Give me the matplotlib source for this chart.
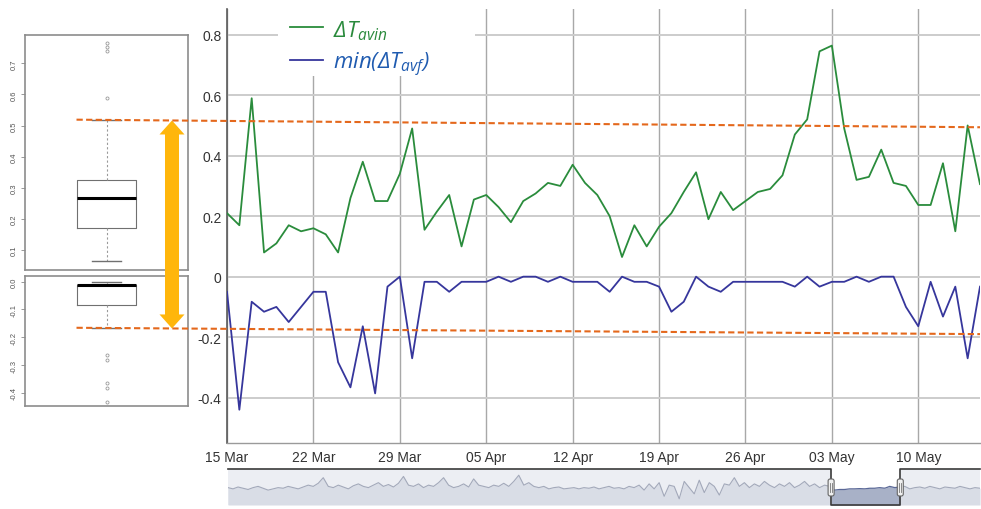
import numpy as np
import pandas as pd
import matplotlib
matplotlib.use("Agg")
import matplotlib.pyplot as plt
import matplotlib.dates as mdates
from matplotlib.patches import Rectangle, Polygon, FancyBboxPatch
from matplotlib.ticker import FuncFormatter

W, H = 981, 510

# daily series, 15 Mar .. 15 May
dates = pd.date_range("2016-03-15", periods=62, freq="D")
dt_avin = [
    0.21, 0.17, 0.59, 0.08, 0.11, 0.17, 0.15, 0.16, 0.14, 0.08,
    0.26, 0.38, 0.25, 0.25, 0.34, 0.49, 0.155, 0.215, 0.27, 0.10,
    0.255, 0.27, 0.23, 0.18, 0.25, 0.275, 0.31, 0.30, 0.37, 0.31,
    0.27, 0.20, 0.065, 0.17, 0.10, 0.165, 0.21, 0.28, 0.345, 0.19,
    0.28, 0.22, 0.25, 0.28, 0.29, 0.335, 0.47, 0.52, 0.745, 0.764,
    0.49, 0.32, 0.33, 0.42, 0.31, 0.30, 0.237, 0.237, 0.375, 0.15,
    0.50, 0.306,
]
min_dt_avf = [
    -0.05, -0.44, -0.083, -0.116, -0.10, -0.15, -0.10, -0.05, -0.05, -0.283,
    -0.366, -0.164, -0.386, -0.033, 0.0, -0.27, -0.017, -0.017, -0.05, -0.017,
    -0.017, -0.017, 0.0, -0.017, 0.0, 0.0, -0.017, 0.0, -0.017, -0.017,
    -0.017, -0.05, 0.0, -0.017, -0.017, -0.033, -0.116, -0.083, 0.0, -0.033,
    -0.05, -0.017, -0.017, -0.017, -0.017, -0.017, -0.033, 0.0, -0.033, -0.017,
    -0.017, 0.0, -0.017, 0.0, 0.0, -0.10, -0.164, -0.017, -0.132, -0.033,
    -0.27, -0.033,
]
week_ticks = pd.date_range("2016-03-15", periods=9, freq="7D")
y_ticks = [-0.4, -0.2, 0, 0.2, 0.4, 0.6, 0.8]

# box-plot summaries of the two series
box_hi = dict(q1=0.171, med=0.267, q3=0.326, whislo=0.064, whishi=0.519,
              fliers=[0.588, 0.739, 0.752, 0.765])
box_lo = dict(q1=-0.083, med=-0.014, q3=-0.014, whislo=-0.166, whishi=0.0,
              fliers=[-0.263, -0.281, -0.364, -0.381, -0.431])
box_hi_ticks = [0.1, 0.2, 0.3, 0.4, 0.5, 0.6, 0.7]
box_lo_ticks = [0.0, -0.1, -0.2, -0.3, -0.4]

# threshold levels where the dashed lines reach the right edge
thresh_end = [0.494, -0.19]

# overview series for the navigator strip
nav_values = [
    0.1, 0.0, 0.15, 0.05, -0.05, 0.1, 0.2, 0.05, -0.1, 0.0, 0.1, 0.05, 0.2, 0.1, 0.0,
    0.15, 0.3, 0.2, 0.45, 0.9,
    0.2, 0.1, 0.3, 0.15, 0.0, 0.25, 0.4, 0.2, 0.1, 0.3,
    0.5, 0.2, 0.35, 0.15, 0.45, 1.0, 0.3, 0.2, 0.4, 0.1,
    0.3, 0.2, 0.5, 0.9, 0.3, 0.1, 0.2, 0.4, 0.15, 0.8,
    0.3, 0.2, 0.1, 0.3, 0.2, 0.45, 0.2, 0.6, 1.1, 0.3,
    0.5, 0.2, 0.1, 0.2, 0.0, 0.1, 0.15, 0.0, 0.05, 0.1,
    0.0, 0.1, 0.05, 0.15, 0.0, 0.1, 0.2, 0.05, 0.1, 0.0,
    0.2, 0.1, 0.3, -0.1, 0.4, 0.0, 0.5, -0.6, 0.3, 0.2,
    -0.8, 0.6, 0.1, -0.4, 0.7, -0.3, 0.5, 0.2, -0.5, 0.4,
    0.3, 0.9, 0.2, 0.5, 0.1, 0.4, 0.2, 0.6, 0.3, 0.1,
    0.4, 0.2, 0.5, 0.1, 0.3, 0.6, 0.2, 0.4, 0.1, 0.3, 0.2,
    -0.1, -0.05, -0.05, 0.0, 0.0, 0.02, 0.0, 0.05, 0.05, 0.1, 0.05, 0.2, 0.1, 0.15,
    0.2, 0.0, 0.1, 0.15, 0.05, 0.2, 0.1, 0.0, 0.15, 0.1, 0.05, 0.2, 0.1, 0.0, 0.1, 0.05,
]
nav_sel = (120.3, 134.1)

GREEN = "#2a8c3c"
BLUE = "#36369c"
ORANGE = "#e4681c"
GOLD = "#ffb60b"

plt.rcParams["font.family"] = ["Liberation Sans", "DejaVu Sans"]
plt.rcParams["axes.unicode_minus"] = False
plt.rcParams["mathtext.fontset"] = "custom"
plt.rcParams["mathtext.rm"] = "Open Sans:italic"
plt.rcParams["mathtext.it"] = "Open Sans:italic"


def px_axes(fig, x0, y0, x1, y1, **kw):
    """Axes placed by pixel box (top-left origin)."""
    return fig.add_axes([x0 / W, 1 - y1 / H, (x1 - x0) / W, (y1 - y0) / H], **kw)


def to_px(ax, x, y):
    dx, dy = ax.transData.transform((x, y))
    return dx, H - dy


def draw_box(fig, rect, stats, ylim, ticks):
    bx = px_axes(fig, *rect)
    bx.bxp([stats], positions=[0.5], widths=0.368, capwidths=0.18,
           boxprops=dict(color="#707070", lw=0.8),
           whiskerprops=dict(color="#9a9a9a", lw=0.8, linestyle=(0, (2, 2))),
           capprops=dict(color="#707070", lw=1.0),
           medianprops=dict(color="black", lw=2.2),
           flierprops=dict(marker="o", markersize=2.2, mfc="none",
                           mec="#9a9a9a", mew=0.6))
    bx.set_xlim(0, 1)
    bx.set_ylim(*ylim)
    bx.set_xticks([])
    bx.set_yticks(ticks)
    bx.set_yticklabels([f"{t:.1f}" for t in ticks], rotation=90, va="center",
                       fontsize=5.5, color="#555555")
    bx.tick_params(axis="y", length=3, width=0.6, color="#888888", pad=2)
    for s in bx.spines.values():
        s.set_color("#8c8c8c")
        s.set_linewidth(1.2)
    return bx


fig = plt.figure(figsize=(W / 100, H / 100), dpi=100)

# main time-series panel
ax = px_axes(fig, 227, 10, 980, 444)
ax.plot(dates, dt_avin, color=GREEN, lw=1.3, zorder=3)
ax.plot(dates, min_dt_avf, color=BLUE, lw=1.3, zorder=3)
ax.set_xlim(dates[0], dates[-1])
ax.set_ylim(-0.55, 0.885)
ax.set_xticks(week_ticks)
ax.xaxis.set_major_formatter(mdates.DateFormatter("%d %b"))
ax.set_yticks(y_ticks)
ax.yaxis.set_major_formatter(FuncFormatter(lambda v, _: f"{v:g}"))
ax.set_axisbelow(True)
ax.grid(axis="y", color="#cccccc", lw=1.4)
ax.grid(axis="x", color="#a8a8a8", lw=1.0)
ax.tick_params(length=0, labelsize=10, colors="#333333")
ax.tick_params(axis="x", pad=5)
ax.tick_params(axis="y", pad=4)
for side in ("top", "right"):
    ax.spines[side].set_visible(False)
ax.spines["left"].set_color("#5a5a5a")
ax.spines["left"].set_linewidth(1.2)
ax.spines["bottom"].set_color("#9a9a9a")
ax.spines["bottom"].set_linewidth(1.0)
# white block behind the legend
ax.add_patch(Rectangle(((278 - 227) / 753, (444 - 77) / 434), (475 - 278) / 753,
                       1 - (444 - 77) / 434, transform=ax.transAxes,
                       facecolor="white", edgecolor="none", zorder=1))

# box plots on the left
bx_hi = draw_box(fig, (25, 35.7, 188, 270.7), box_hi, (0.037, 0.792), box_hi_ticks)
bx_lo = draw_box(fig, (25, 277.3, 188, 406.7), box_lo, (-0.446, 0.019), box_lo_ticks)

# navigator strip
nav = px_axes(fig, 228, 470, 980, 506)
xs = np.arange(len(nav_values))
lo, hi = -1.3, 1.6
nav.set_facecolor("#eceef3")
nav.fill_between(xs, nav_values, lo, color="#d9dde6", lw=0)
nav.plot(xs, nav_values, color="#a3a9ba", lw=0.8)
nav.axvspan(nav_sel[0], nav_sel[1], color="white", lw=0, zorder=2)
sx = np.linspace(nav_sel[0], nav_sel[1], 60)
sy = np.interp(sx, xs, nav_values)
nav.fill_between(sx, sy, lo, color="#a8b1c7", lw=0, zorder=3)
nav.plot(sx, sy, color="#5a6897", lw=0.9, zorder=4)
nav.plot([0, nav_sel[0], nav_sel[0], nav_sel[1], nav_sel[1], xs[-1]],
         [hi, hi, lo, lo, hi, hi], color="#3a3a3a", lw=1.2, zorder=5,
         clip_on=False)
nav.set_xlim(0, xs[-1])
nav.set_ylim(lo, hi)
nav.set_xticks([])
nav.set_yticks([])
for s in nav.spines.values():
    s.set_visible(False)

# overlay in pixel coordinates: threshold lines, arrow, legend, handles
ov = fig.add_axes([0, 0, 1, 1], zorder=10)
ov.set_xlim(0, W)
ov.set_ylim(H, 0)
ov.axis("off")
ov.patch.set_visible(False)

x_end = mdates.date2num(dates[-1])
box_left = 0.5 - 0.368 / 2
lines_px = []
for bxx, start, end in ((bx_hi, box_hi["whishi"], thresh_end[0]),
                        (bx_lo, box_lo["whislo"], thresh_end[1])):
    p0 = to_px(bxx, box_left, start)
    p1 = to_px(ax, x_end, end)
    ov.plot([p0[0], p1[0]], [p0[1], p1[1]], color=ORANGE, lw=1.5,
            linestyle=(0, (3, 1.6)))
    lines_px.append((p0, p1))


def y_at(line, x):
    (x0, y0), (x1, y1) = line
    return y0 + (y1 - y0) * (x - x0) / (x1 - x0)


cx = 172
ty, by = y_at(lines_px[0], cx), y_at(lines_px[1], cx)
hw, sw, hl = 12.5, 7, 14
ov.add_patch(Polygon([(cx, ty), (cx + hw, ty + hl), (cx + sw, ty + hl),
                      (cx + sw, by - hl), (cx + hw, by - hl), (cx, by),
                      (cx - hw, by - hl), (cx - sw, by - hl),
                      (cx - sw, ty + hl), (cx - hw, ty + hl)],
                     closed=True, facecolor=GOLD, edgecolor="none"))

# legend
ov.plot([290, 323], [28, 28], color=GREEN, lw=1.3)
ov.plot([290, 323], [61, 61], color=BLUE, lw=1.3)
ov.text(333, 37, r"$\Delta T_{avin}$", color="#2a8a3c", fontsize=16,
        va="baseline", ha="left")
ov.text(333, 69, r"$min(\Delta T_{avf})$", color="#1f5bb0", fontsize=16,
        va="baseline", ha="left")

# navigator handles
for sel in nav_sel:
    hx, _ = to_px(nav, sel, 0)
    ov.add_patch(FancyBboxPatch((hx - 3, 480), 6, 17,
                                boxstyle="round,pad=0,rounding_size=2",
                                facecolor="#f0f0f0", edgecolor="#666666", lw=0.8))
    for dx in (-0.9, 0.9):
        ov.plot([hx + dx, hx + dx], [484, 493], color="#777777", lw=0.6)

fig.savefig("out.png", dpi=100)
plt.close(fig)
